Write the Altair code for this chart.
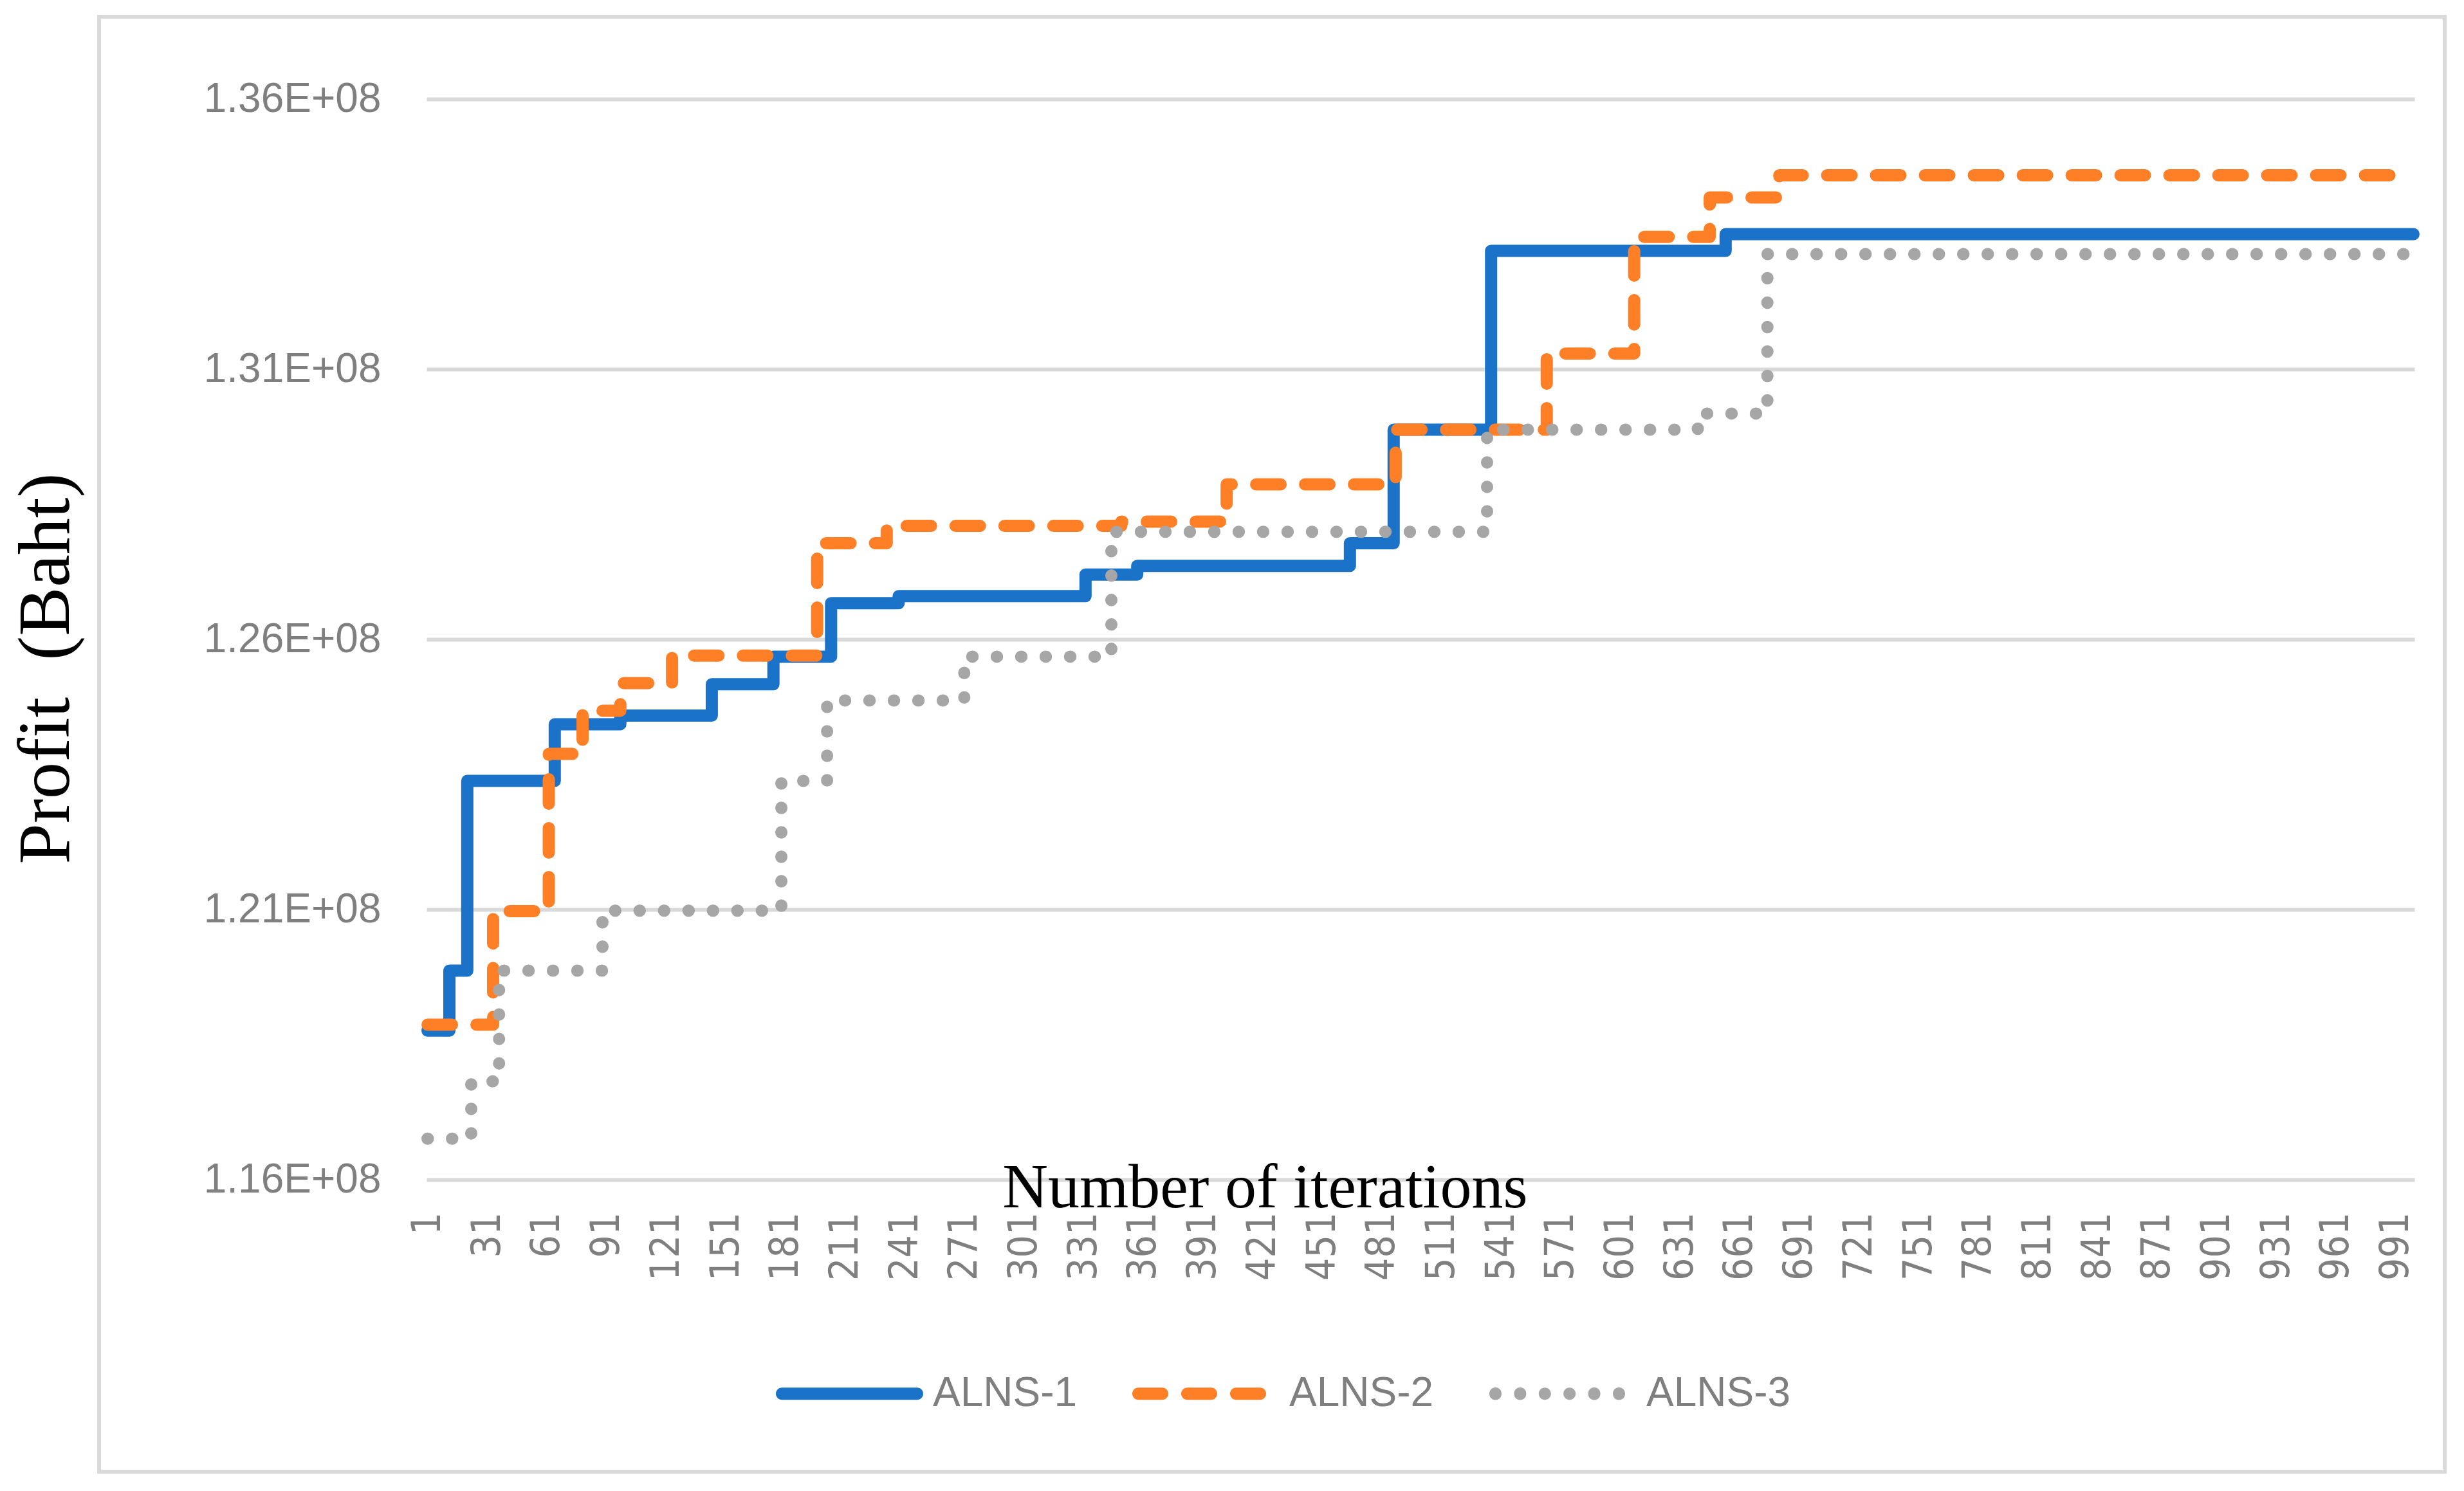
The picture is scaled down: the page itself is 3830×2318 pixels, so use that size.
import altair as alt
import pandas as pd

# ---- data (profit in units of 1e8 Baht) ----
series_names = ["ALNS-1", "ALNS-2", "ALNS-3"]
series_colors = ["#1A73C8", "#FF7F27", "#A6A6A6"]

alns1_iter = [1, 12, 21, 65, 98, 144, 175, 204, 238, 332, 358, 465, 487, 536, 654, 1000]
alns1_val = [1.1876, 1.1987, 1.2338, 1.2443, 1.2459, 1.2517, 1.2568, 1.2667, 1.2680,
             1.2720, 1.2736, 1.2778, 1.2988, 1.3319, 1.3350, 1.3350]

alns2_iter = [1, 34, 62, 79, 98, 124, 197, 232, 350, 403, 488, 564, 608, 646, 681, 1000]
alns2_val = [1.1887, 1.2097, 1.2388, 1.2468, 1.2519, 1.2570, 1.2778, 1.2810, 1.2818,
             1.2887, 1.2988, 1.3129, 1.3345, 1.3418, 1.3459, 1.3459]

alns3_iter = [1, 23, 37, 89, 179, 202, 271, 345, 534, 640, 675, 1000]
alns3_val = [1.1676, 1.1782, 1.1987, 1.2098, 1.2338, 1.2487, 1.2568, 1.2799, 1.2988,
             1.3018, 1.3313, 1.3313]

x_tick_values = list(range(1, 1000, 30))
y_tick_values = [1.16e8, 1.21e8, 1.26e8, 1.31e8, 1.36e8]

rows = []
for name, its, vals in zip(series_names, [alns1_iter, alns2_iter, alns3_iter],
                           [alns1_val, alns2_val, alns3_val]):
    for i, v in zip(its, vals):
        rows.append({"series": name, "iteration": i, "profit": v * 1e8})
df = pd.DataFrame(rows)

label_gray = "#7F7F7F"

# ---- legend glyphs (style only): unit-square SVG paths for the legend symbols ----
SYM_PX = 229.0          # symbol box width in pixels
R = SYM_PX / 2.0
H = 9.5 / R             # half stroke width in unit coords


def f(v):
    return f"{v:.4f}"


def pill(a, b):
    return (f"M{f(a + H)},{f(-H)}H{f(b - H)}A{f(H)},{f(H)} 0 0 1 {f(b - H)},{f(H)}"
            f"H{f(a + H)}A{f(H)},{f(H)} 0 0 1 {f(a + H)},{f(-H)}Z")


def dot(cx):
    return (f"M{f(cx - H)},0A{f(H)},{f(H)} 0 1 0 {f(cx + H)},0"
            f"A{f(H)},{f(H)} 0 1 0 {f(cx - H)},0Z")


solid_path = pill(-1.0, 1.0)
dash_path = "".join(pill(-1 + 76 * k / R, -1 + (76 * k + 56) / R) for k in range(3))
dot_path = "".join(dot(-1 + (9.5 + 38.4 * k) / R) for k in range(6))
legend_shapes = [solid_path, dash_path, dot_path]

x_enc = alt.X(
    "iteration:Q",
    scale=alt.Scale(domain=[0.5, 1000.5], nice=False, zero=False),
    axis=alt.Axis(
        values=x_tick_values, labelAngle=-90, grid=False, ticks=False, domain=False,
        labelFont="DejaVu Sans Condensed, DejaVu Sans", labelFontSize=62,
        labelColor=label_gray, labelPadding=50, labelFlush=False, labelOverlap=False,
        labelLimit=1000,
        title="Number of iterations", titleFont="Liberation Serif", titleFontSize=98,
        titleFontWeight="normal", titleColor="#000000", titleX=1303, titleY=42,
        titleAlign="center", titleBaseline="alphabetic",
    ),
)
y_enc = alt.Y(
    "profit:Q",
    scale=alt.Scale(domain=[1.16e8, 1.36e8], nice=False, zero=False),
    axis=alt.Axis(
        values=y_tick_values, grid=True, gridColor="#D9D9D9", gridWidth=6,
        ticks=False, domain=False,
        labelExpr="replace(format(datum.value, '.2e'), 'e+8', 'E+08')",
        labelFont="Liberation Sans", labelFontSize=64, labelColor=label_gray,
        labelPadding=71, labelLimit=1000,
        title="Profit\u00a0 (Baht)", titleFont="Liberation Serif", titleFontSize=114,
        titleFontWeight="normal", titleColor="#000000", titleX=-557, titleY=885,
        titleAlign="center", titleBaseline="alphabetic",
    ),
)

# lines: scales take their (sorted) domain from the data, legend drawn by the layer below
lines = alt.Chart(df).mark_line(
    interpolate="step-after", strokeWidth=19, strokeCap="round", strokeJoin="round"
).encode(
    x=x_enc,
    y=y_enc,
    color=alt.Color("series:N", scale=alt.Scale(range=series_colors), legend=None),
    strokeDash=alt.StrokeDash(
        "series:N",
        scale=alt.Scale(range=[[1, 0], [38, 38], [0.5, 37.5]]),
        legend=None,
    ),
)

legend_kw = dict(
    title=None, orient="none", direction="horizontal", legendX=543, legendY=1898,
    symbolSize=SYM_PX * SYM_PX, symbolStrokeWidth=0, symbolOpacity=1,
    labelFont="Liberation Sans", labelFontSize=64, labelColor=label_gray,
    labelOffset=15, columnPadding=85, padding=0, labelLimit=1000,
)

legend_layer = alt.Chart(df).transform_filter("false").mark_point(
    filled=True, strokeWidth=0, opacity=1
).encode(
    x=x_enc,
    y=y_enc,
    fill=alt.Fill("series:N", scale=alt.Scale(domain=series_names, range=series_colors),
                  legend=alt.Legend(**legend_kw)),
    shape=alt.Shape("series:N", scale=alt.Scale(domain=series_names, range=legend_shapes),
                    legend=alt.Legend(**legend_kw)),
)

frame = alt.Chart(pd.DataFrame({"frame": [0]})).mark_rect(
    filled=False, stroke="#D9D9D9", strokeWidth=6
).encode(
    x=alt.value(-509), x2=alt.value(3137), y=alt.value(-128), y2=alt.value(2134)
)

chart = alt.layer(frame, lines, legend_layer).properties(
    width=3090, height=1680,
    autosize=alt.AutoSizeParams(type="none"),
    padding={"left": 655, "top": 146, "right": 60, "bottom": 470},
    background="#FFFFFF",
).configure_view(stroke=None)

chart.save("out.html", embed_options={"renderer": "svg", "actions": False})
